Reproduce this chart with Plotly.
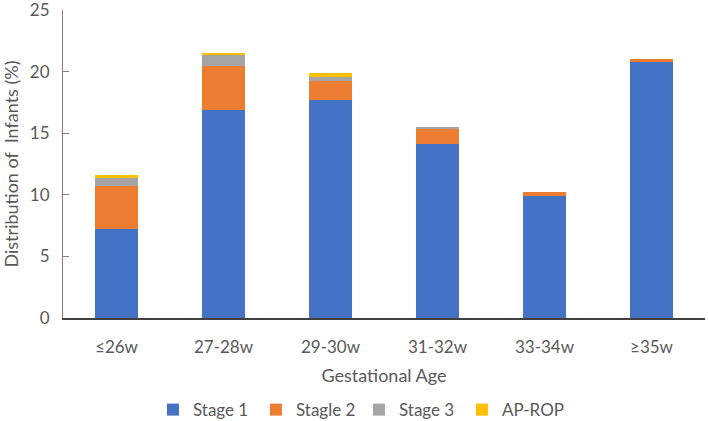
import plotly.graph_objects as go

categories = ["≤26w", "27-28w", "29-30w", "31-32w", "33-34w", "≥35w"]
stage1 = [7.25, 16.9, 17.7, 14.1, 9.9, 20.85]
stage2 = [3.45, 3.55, 1.5, 1.3, 0.35, 0.15]
stage3 = [0.7, 0.95, 0.35, 0.1, 0.0, 0.0]
ap_rop = [0.2, 0.15, 0.3, 0.0, 0.0, 0.0]
series_names = ["Stage 1", "Stagle 2", "Stage 3", "AP-ROP"]
colors = ["#4472C4", "#ED7D31", "#A5A5A5", "#FFC000"]

font_family = "Lato, 'Open Sans', sans-serif"
txt = "#595959"

fig = go.Figure()
for name, vals, col in zip(series_names, [stage1, stage2, stage3, ap_rop], colors):
    fig.add_trace(go.Bar(x=categories, y=vals, name=name, marker=dict(color=col, line=dict(width=0))))

fig.update_layout(
    barmode="stack",
    bargap=0.6,
    width=708, height=421,
    margin=dict(l=63, r=3, t=10, b=103),
    paper_bgcolor="white", plot_bgcolor="white",
    font=dict(family=font_family, size=17, color=txt),
    legend=dict(orientation="h", xref="container", yref="container",
                x=0.507, xanchor="center", y=0.026, yanchor="middle",
                font=dict(size=17, color=txt), traceorder="normal", itemwidth=30,
                entrywidth=58, entrywidthmode="pixels"),
    xaxis=dict(showline=True, linecolor="#404040", linewidth=1.5, ticks="", automargin=False,
               ticklabelstandoff=13,
               title=dict(text="Gestational Age", standoff=13, font=dict(size=18, color=txt)),
               tickfont=dict(size=17, color=txt), showgrid=False),
    yaxis=dict(range=[0, 25], dtick=5, showline=True, linecolor="#808080", linewidth=1,
               ticks="inside", ticklen=6, tickcolor="#808080", showgrid=False, zeroline=False,
               automargin=False, ticklabelstandoff=9, ticklabeloverflow="allow",
               title=dict(text="Distribution of  Infants (%)", standoff=29, font=dict(size=18, color=txt)),
               tickfont=dict(size=17, color=txt)),
)

# remove the browser's default 8px body margin so the 708x421 figure fills the window exactly
fig.write_html("out.html", config={"displayModeBar": False},
               post_script="document.body.style.margin='0px';")
